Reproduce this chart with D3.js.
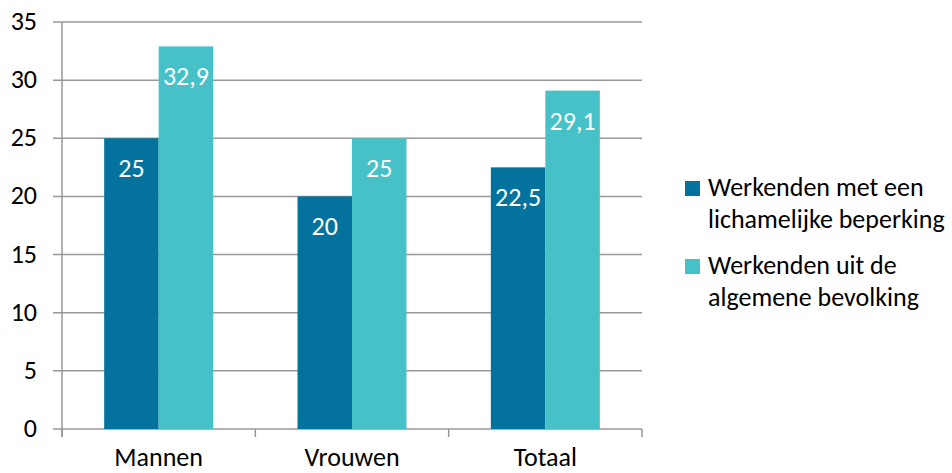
<!DOCTYPE html>
<html>
<head>
<meta charset="utf-8">
<script src="https://cdn.jsdelivr.net/npm/d3@7"></script>
<style>
  body { margin: 0; background: #fff; }
  svg text { font-family: Carlito, "Open Sans", sans-serif; }
</style>
</head>
<body>
<svg width="952" height="473"></svg>
<script>
// data
const categories = ["Mannen", "Vrouwen", "Totaal"];
const seriesNames = ["Werkenden met een lichamelijke beperking", "Werkenden uit de algemene bevolking"];
const beperking = [25, 20, 22.5];
const algemeen = [32.9, 25, 29.1];
const yTicks = [0, 5, 10, 15, 20, 25, 30, 35];
const legendLines = [["Werkenden met een", "lichamelijke beperking"], ["Werkenden uit de", "algemene bevolking"]];
const colors = ["#03739e", "#45c1c7"];

const series = [beperking, algemeen];
const svg = d3.select("svg");
const fs = 26;

const x = d3.scaleBand().domain(categories).range([62, 642]).paddingInner(0).paddingOuter(0);
const xs = d3.scaleBand().domain(d3.range(series.length)).range([0, x.bandwidth()]).paddingInner(0).paddingOuter(0.774);
const y = d3.scaleLinear().domain([0, 35]).range([429, 22]);

// gridlines
svg.append("g").selectAll("line").data(yTicks).join("line")
    .attr("x1", 53).attr("x2", 642)
    .attr("y1", d => y(d)).attr("y2", d => y(d))
    .attr("stroke", "#999").attr("stroke-width", 1.5);

// y axis line
svg.append("line").attr("x1", 62).attr("x2", 62).attr("y1", y(35)).attr("y2", 437)
    .attr("stroke", "#999").attr("stroke-width", 1.5);

// category ticks
svg.append("g").selectAll("line").data(categories.map(c => x(c) + x.bandwidth()).concat([62])).join("line")
    .attr("x1", d => d).attr("x2", d => d).attr("y1", y(0)).attr("y2", 437)
    .attr("stroke", "#999").attr("stroke-width", 1.5);

// y labels
svg.append("g").selectAll("text").data(yTicks).join("text")
    .attr("x", 37).attr("y", d => y(d) + 8)
    .attr("text-anchor", "end").attr("font-size", fs).attr("fill", "#000")
    .text(d => d);

// bars
const groups = svg.append("g").selectAll("g").data(series).join("g")
    .attr("fill", (d, i) => colors[i]);
groups.each(function (vals, si) {
    const g = d3.select(this);
    g.selectAll("rect").data(vals).join("rect")
        .attr("x", (d, i) => x(categories[i]) + xs(si))
        .attr("width", xs.bandwidth())
        .attr("y", d => y(d))
        .attr("height", d => y(0) - y(d));
    g.selectAll("text").data(vals).join("text")
        .attr("x", (d, i) => x(categories[i]) + xs(si) + xs.bandwidth() / 2)
        .attr("y", d => y(d) + 39)
        .attr("text-anchor", "middle").attr("fill", "#fff").attr("font-size", fs)
        .text(d => String(d).replace(".", ","));
});

// x labels
svg.append("g").selectAll("text").data(categories).join("text")
    .attr("x", d => x(d) + x.bandwidth() / 2).attr("y", 466)
    .attr("text-anchor", "middle").attr("font-size", fs).attr("fill", "#000")
    .text(d => d);

// legend
const leg = svg.append("g").selectAll("g").data(legendLines).join("g")
    .attr("transform", (d, i) => `translate(685, ${181 + i * 78})`);
leg.append("rect").attr("width", 15).attr("height", 15).attr("fill", (d, i) => colors[i]);
leg.each(function (lines) {
    d3.select(this).selectAll("text").data(lines).join("text")
        .attr("x", 23).attr("y", (d, j) => 15 + j * 32)
        .attr("font-size", fs).attr("fill", "#000")
        .text(d => d);
});
</script>
</body>
</html>
